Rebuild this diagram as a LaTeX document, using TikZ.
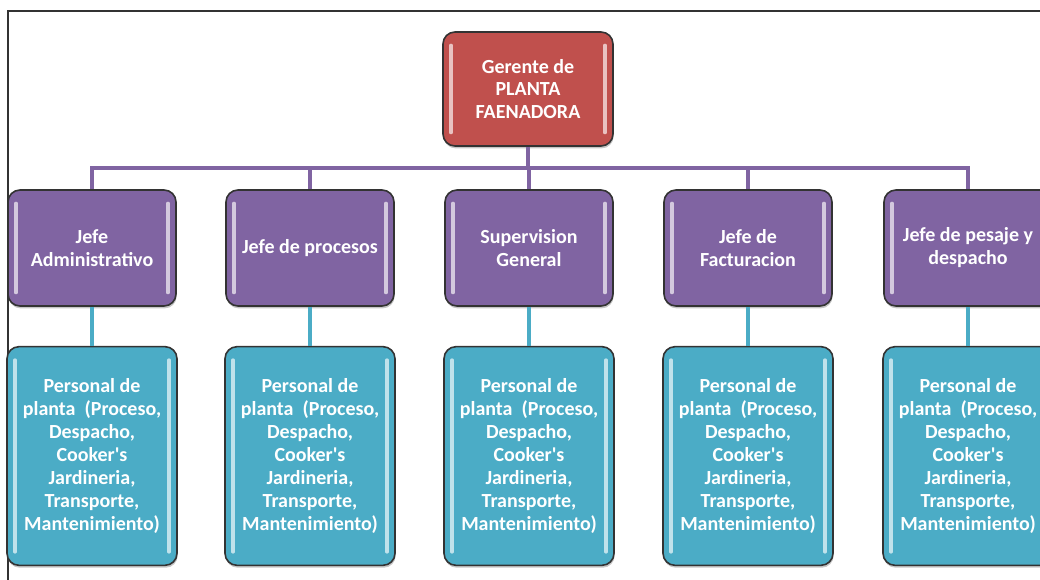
\documentclass[tikz,border=0pt]{standalone}
\usepackage{fontspec}
\setmainfont{Carlito}[Ligatures=TeXOff]
\usetikzlibrary{shadows}
\definecolor{rojo}{HTML}{C0504D}
\definecolor{lila}{HTML}{8064A2}
\definecolor{turq}{HTML}{4BACC6}
\definecolor{borde}{HTML}{333333}

\begin{document}
\begin{tikzpicture}[x=0.75pt, y=-0.75pt, font=\bfseries\fontsize{15}{17.2}\selectfont,
    caja/.style={draw=borde, line width=1.2pt, rounded corners=9pt, fill=#1, text=white,
      align=center, inner sep=0pt,
      drop shadow={shadow xshift=0.5pt, shadow yshift=-1.8pt, opacity=0.45},
      path picture={\draw[#1!35!white, line width=2.4pt, line cap=round]
        ([xshift=6pt,yshift=-10pt]path picture bounding box.north west) -- ([xshift=6pt,yshift=10pt]path picture bounding box.south west)
        ([xshift=-6pt,yshift=-10pt]path picture bounding box.north east) -- ([xshift=-6pt,yshift=10pt]path picture bounding box.south east);}},
    gerente/.style={caja=rojo, minimum width=127.5pt, minimum height=85.5pt},
    jefe/.style={caja=lila, minimum width=126pt, minimum height=87pt},
    personal/.style={caja=turq, minimum width=127.5pt, minimum height=164pt},
    ramal/.style={line width=3pt, draw=#1}]
  \useasboundingbox (0,0) rectangle (1040,580);
  % marco
  \draw[line width=1.5pt, borde] (8,580) -- (8,11) -- (1040,11);

  \node[gerente] (ger) at (528,89) {Gerente de\\PLANTA\\FAENADORA};

  \foreach \cx/\txt [count=\i] in {92/{Jefe\\Administrativo}, 310/{Jefe de procesos},
      529/{Supervision\\General}, 748/{Jefe de\\Facturacion}, 968/{Jefe de pesaje y\\despacho}}{
    \node[jefe] (j\i) at (\cx,248) {\txt};
    \node[personal] (p\i) at (\cx,456) {Personal de\\planta\ \ (Proceso,\\Despacho,\\Cooker's\\Jardineria,\\Transporte,\\Mantenimiento)};
    \draw[ramal=lila] (ger.south) -- ++(0,21) -| (j\i.north);
    \draw[ramal=turq] (j\i.south) -- (p\i.north);
  }
\end{tikzpicture}
\end{document}
